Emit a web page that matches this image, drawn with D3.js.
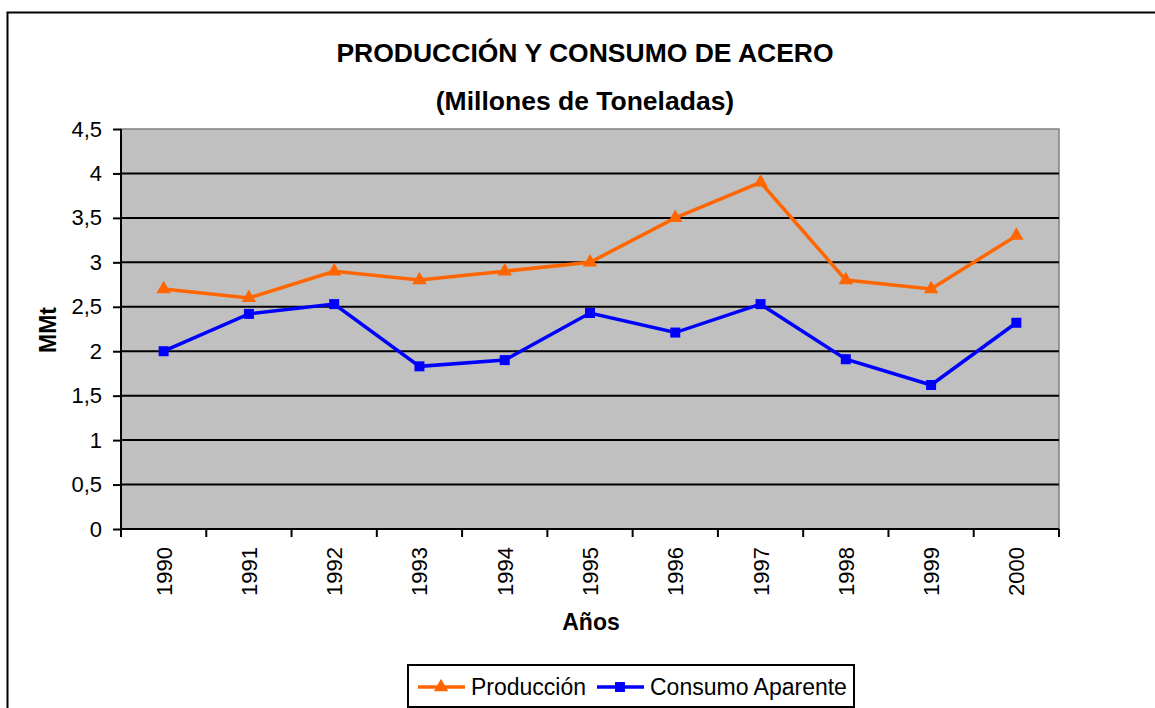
<!DOCTYPE html>
<html>
<head>
<meta charset="utf-8">
<script src="https://cdn.jsdelivr.net/npm/d3@7"></script>
<style>
  body { margin: 0; background: #fff; }
  svg { display: block; font-family: "Liberation Sans", Arial, sans-serif; }
</style>
</head>
<body>
<svg id="chart" width="1155" height="708"></svg>
<script>
// data
const years = ['1990', '1991', '1992', '1993', '1994', '1995', '1996', '1997', '1998', '1999', '2000'];
const produccion = [2.7, 2.6, 2.9, 2.8, 2.9, 3.0, 3.5, 3.9, 2.8, 2.7, 3.3];
const consumo = [2.0, 2.42, 2.53, 1.83, 1.9, 2.43, 2.21, 2.53, 1.91, 1.62, 2.32];
const yTicks = [0, 0.5, 1, 1.5, 2, 2.5, 3, 3.5, 4, 4.5];

const svg = d3.select('#chart');
const margin = { top: 129, left: 121, right: 96, bottom: 179 };
const width = 1155 - margin.left - margin.right;
const height = 708 - margin.top - margin.bottom;

// outer frame (runs off the page on right and bottom)
svg.append('rect')
    .attr('x', 7.5).attr('y', 12.5)
    .attr('width', 1200).attr('height', 800)
    .attr('fill', 'none').attr('stroke', '#000').attr('stroke-width', 2);

const g = svg.append('g').attr('transform', `translate(${margin.left},${margin.top})`);

const x = d3.scaleBand().domain(years).range([0, width]);
const y = d3.scaleLinear().domain([0, 4.5]).range([height, 0]);
const cx = d => x(d) + x.bandwidth() / 2;

// plot background
g.append('rect')
    .attr('width', width).attr('height', height)
    .attr('fill', '#c0c0c0')
    .attr('stroke', '#808080').attr('stroke-width', 1.5);

// gridlines
g.selectAll('.grid')
    .data(yTicks.filter(t => t > 0 && t < 4.5))
    .enter().append('line')
    .attr('x1', 0).attr('x2', width)
    .attr('y1', d => y(d)).attr('y2', d => y(d))
    .attr('stroke', '#000').attr('stroke-width', 2);

// y axis
const yAxis = g.append('g')
    .call(d3.axisLeft(y).tickValues(yTicks).tickSize(8).tickPadding(11)
        .tickFormat(d => String(d).replace('.', ',')));
yAxis.select('.domain').attr('stroke', '#000').attr('stroke-width', 2).attr('d', `M0,0V${height}`);
yAxis.selectAll('.tick line').attr('stroke-width', 2);
yAxis.selectAll('text').style('font-size', '22px').attr('fill', '#000');

// x axis with ticks between categories
const xAxis = g.append('g').attr('transform', `translate(0,${height})`);
xAxis.append('line')
    .attr('x1', 0).attr('x2', width)
    .attr('stroke', '#000').attr('stroke-width', 2);
xAxis.selectAll('.xt')
    .data(years.concat(['end']))
    .enter().append('line')
    .attr('x1', (d, i) => i * x.bandwidth()).attr('x2', (d, i) => i * x.bandwidth())
    .attr('y1', 0).attr('y2', 8)
    .attr('stroke', '#000').attr('stroke-width', 2);
xAxis.selectAll('.xl')
    .data(years)
    .enter().append('text')
    .attr('transform', d => `translate(${cx(d) + 8},18) rotate(-90)`)
    .attr('text-anchor', 'end')
    .style('font-size', '22px')
    .text(d => d);

// lines
const line = d3.line().x((d, i) => cx(years[i])).y(d => y(d));
g.append('path').datum(produccion)
    .attr('d', line).attr('fill', 'none')
    .attr('stroke', '#ff6600').attr('stroke-width', 3.5);
g.append('path').datum(consumo)
    .attr('d', line).attr('fill', 'none')
    .attr('stroke', '#0000ff').attr('stroke-width', 3.5);

const tri = d3.symbol().type(d3.symbolTriangle).size(90);
g.selectAll('.tri')
    .data(produccion)
    .enter().append('path')
    .attr('d', tri)
    .attr('transform', (d, i) => `translate(${cx(years[i])},${y(d)})`)
    .attr('fill', '#ff6600');
g.selectAll('.sq')
    .data(consumo)
    .enter().append('rect')
    .attr('x', (d, i) => cx(years[i]) - 5).attr('y', d => y(d) - 5)
    .attr('width', 10).attr('height', 10)
    .attr('fill', '#0000ff');

// titles
svg.append('text')
    .attr('x', 585).attr('y', 62)
    .attr('text-anchor', 'middle')
    .style('font-size', '26.5px').style('font-weight', 'bold')
    .text('PRODUCCIÓN Y CONSUMO DE ACERO');
svg.append('text')
    .attr('x', 585).attr('y', 110)
    .attr('text-anchor', 'middle')
    .style('font-size', '26.5px').style('font-weight', 'bold')
    .text('(Millones de Toneladas)');
svg.append('text')
    .attr('transform', 'translate(56,330) rotate(-90)')
    .attr('text-anchor', 'middle')
    .style('font-size', '23px').style('font-weight', 'bold')
    .text('MMt');
svg.append('text')
    .attr('x', 591).attr('y', 630)
    .attr('text-anchor', 'middle')
    .style('font-size', '23px').style('font-weight', 'bold')
    .text('Años');

// legend
const legend = svg.append('g').attr('transform', 'translate(408,665)');
legend.append('rect')
    .attr('width', 446).attr('height', 42)
    .attr('fill', '#fff').attr('stroke', '#000').attr('stroke-width', 2);
const items = [
    { name: 'Producción', color: '#ff6600', shape: 'tri', x: 10 },
    { name: 'Consumo Aparente', color: '#0000ff', shape: 'sq', x: 189 }
];
items.forEach(it => {
    const li = legend.append('g').attr('transform', `translate(${it.x},22)`);
    li.append('line').attr('x1', 0).attr('x2', 47)
        .attr('stroke', it.color).attr('stroke-width', 3.5);
    if (it.shape === 'tri') {
        li.append('path').attr('d', tri).attr('transform', 'translate(23,0)').attr('fill', it.color);
    } else {
        li.append('rect').attr('x', 18).attr('y', -5).attr('width', 10).attr('height', 10).attr('fill', it.color);
    }
    li.append('text').attr('x', 53).attr('y', 8)
        .style('font-size', '23px')
        .text(it.name);
});
</script>
</body>
</html>
